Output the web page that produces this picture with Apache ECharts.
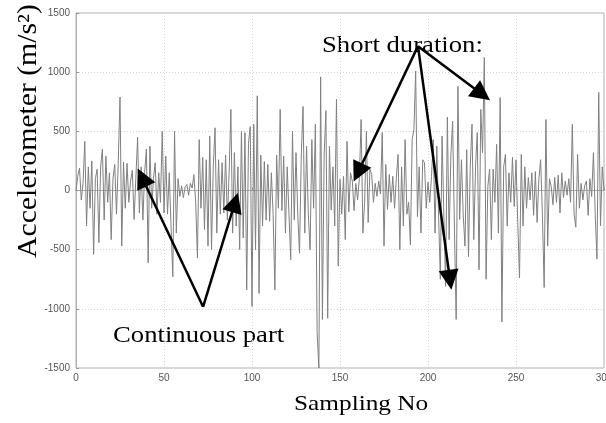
<!DOCTYPE html>
<html>
<head>
<meta charset="utf-8">
<script src="https://cdn.jsdelivr.net/npm/echarts@6/dist/echarts.min.js"></script>
<style>html,body{margin:0;padding:0;background:#fff;}#c{width:606px;height:423px;}</style>
</head>
<body>
<div id="c"></div>
<script>
// Accelerometer samples, one per sampling number 0..300
const accel = [
0,120,190,-80,60,415,-300,200,-150,250,
-540,100,180,-440,200,350,-250,290,-100,150,
-415,100,220,-200,230,790,-470,240,-150,230,
-100,80,170,-245,100,450,-190,200,-250,150,
350,-610,375,-150,100,235,-200,150,-100,500,
-190,290,-200,150,-300,-730,500,-360,100,-50,
40,-60,30,50,-40,60,20,135,-100,-570,
430,-150,280,-330,260,-470,460,-500,200,530,
-360,260,-200,235,-190,300,-250,150,685,-360,
320,-300,200,-500,500,-400,490,-840,400,540,
-980,560,-500,800,-870,300,-300,245,-250,220,
-260,150,-200,-840,300,-150,685,-170,290,-360,
200,-200,-585,500,-250,320,-200,-530,300,710,
-360,375,-200,-500,430,-150,560,-1200,-1500,960,
-1090,300,675,-1080,375,-165,200,-300,770,-640,
95,-200,120,-415,415,-180,150,80,-170,60,
-80,100,600,-360,-100,500,-270,180,135,-100,
60,-50,80,-30,490,-470,220,-160,135,-100,
120,-150,100,305,-500,200,-300,430,-200,-100,
-460,430,515,1010,-220,200,-360,260,235,-150,
70,-100,120,430,-360,375,-200,-750,460,-200,
-810,620,-415,300,585,-300,-1090,880,-245,260,
-200,-470,345,-560,200,560,-415,200,490,-670,
685,320,1125,-750,35,180,-415,180,-100,390,
-360,785,-1110,200,305,-300,150,-100,280,-135,
260,-270,-740,305,-300,200,-150,110,-80,150,
-210,160,-270,100,260,-200,-820,600,-470,100,
35,-120,110,-100,130,-190,150,-60,80,-40,
100,-100,560,-200,-310,305,-150,60,-80,40,
80,-210,100,-50,320,-200,-580,830,-300,200,
0
];
const xTicks = [0, 50, 100, 150, 200, 250, 300];
const yTicks = [-1500, -1000, -500, 0, 500, 1000, 1500];
// annotation arrows in data coordinates: [from, to]
const continuousArrows = [
  [[72.2, -983], [37.5, 110]],
  [[72.2, -983], [90.3, -102]]
];
const shortArrows = [
  [[194.3, 1220], [160.2, 152]],
  [[194.3, 1220], [230.7, 813]],
  [[194.3, 1220], [212.5, -754]]
];
const annotTexts = ['Short duration:', 'Continuous part'];
const xTitle = 'Sampling No';
const yTitle = 'Accelerometer (m/s²)';

const seriesData = accel.map((v, i) => [i, v]);
const arrowData = continuousArrows.concat(shortArrows).map(a => [{coord: a[0]}, {coord: a[1]}]);

const chart = echarts.init(document.getElementById('c'), null, {renderer: 'canvas'});
const serif = '"Liberation Serif", "DejaVu Serif", serif';
chart.setOption({
  animation: false,
  backgroundColor: '#fff',
  grid: {left: 76, right: 2, top: 13, bottom: 55, show: true, borderColor: '#b0b0b0', borderWidth: 1,
         containLabel: false, outerBoundsMode: 'none'},
  xAxis: {
    type: 'value', min: xTicks[0], max: xTicks[xTicks.length - 1], interval: 50,
    axisLine: {show: true, lineStyle: {color: '#b0b0b0'}},
    axisTick: {show: true, inside: true, length: 3, lineStyle: {color: '#999'}},
    axisLabel: {color: '#555', fontSize: 10, fontFamily: 'Liberation Sans, Arial', margin: 5,
                formatter: v => String(v)},
    splitLine: {show: true, lineStyle: {color: '#d6d6d6', type: [1, 2]}}
  },
  yAxis: {
    type: 'value', min: yTicks[0], max: yTicks[yTicks.length - 1], interval: 500,
    axisLine: {show: true, lineStyle: {color: '#b0b0b0'}},
    axisTick: {show: true, inside: true, length: 3, lineStyle: {color: '#999'}},
    axisLabel: {color: '#555', fontSize: 10, fontFamily: 'Liberation Sans, Arial', margin: 6,
                formatter: v => String(v)},
    splitLine: {show: true, lineStyle: {color: '#d6d6d6', type: [1, 2]}}
  },
  series: [{
    type: 'line', data: seriesData, showSymbol: false, symbol: 'none',
    lineStyle: {color: '#808080', width: 1},
    silent: true,
    markLine: {
      silent: true, animation: false,
      symbol: ['none', 'triangle'], symbolSize: 20,
      label: {show: false},
      lineStyle: {color: '#000', width: 2.5, type: 'solid'},
      itemStyle: {color: '#000'},
      emphasis: {disabled: true},
      data: arrowData
    }
  }],
  graphic: [
    {type: 'text', x: 322, y: 34, scaleX: 1.16, style: {text: annotTexts[0], font: '23px ' + serif, fill: '#000'}},
    {type: 'text', x: 113, y: 324, scaleX: 1.16, style: {text: annotTexts[1], font: '23px ' + serif, fill: '#000'}},
    {type: 'text', x: 294, y: 393, scaleX: 1.15, style: {text: xTitle, font: '22px ' + serif, fill: '#000'}},
    {type: 'text', x: 15, y: 258, rotation: Math.PI / 2, scaleX: 1.1, style: {text: yTitle, font: '27px ' + serif, fill: '#000', textVerticalAlign: 'top'}}
  ]
});
</script>
</body>
</html>
